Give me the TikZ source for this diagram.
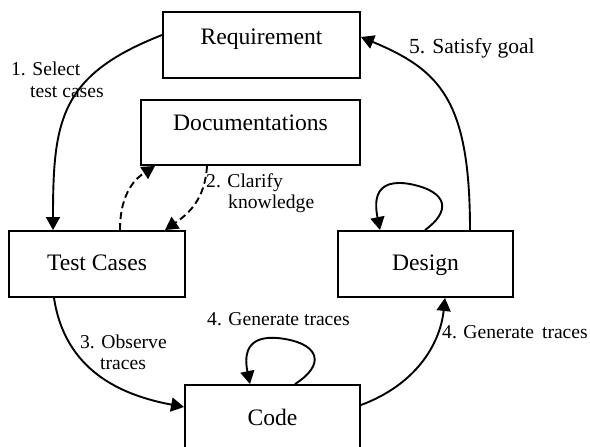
\documentclass[tikz,border=0pt]{standalone}
\usepackage{fontspec}
\setmainfont{Liberation Serif}
\usetikzlibrary{arrows.meta}
\begin{document}
\begin{tikzpicture}[x=1pt,y=-1pt,
  box/.style={draw,line width=1.9pt,inner sep=0pt,font=\fontsize{23.6}{26}\selectfont,text height=16pt},
  conn/.style={line width=1.9pt,-{Triangle[length=13pt,width=14pt]}},
  dconn/.style={conn,dash pattern=on 7pt off 4pt},
  lbl/.style={inner sep=0pt,anchor=base west,align=left,font=\fontsize{19.6}{20.5}\selectfont}]
\useasboundingbox (0,0) rectangle (590,447);
\node[box,minimum width=197pt,minimum height=66pt,text depth=16pt] (req) at (261.5,45) {Requirement};
\node[box,minimum width=219pt,minimum height=65pt,text depth=21pt] (doc) at (250.5,132.5) {Documentations};
\node[box,minimum width=176pt,minimum height=66pt,text depth=4pt] (tc) at (97,264) {Test Cases};
\node[box,minimum width=175pt,minimum height=66pt,text depth=4pt] (des) at (425.5,264) {Design};
\node[box,minimum width=175pt,minimum height=66pt,text depth=2pt] (code) at (272.5,418) {Code};
% 1
\draw[conn] ([yshift=10pt]req.west) .. controls (60,75) and (53,120) .. ([xshift=-44pt]tc.north);
% 2
\draw[dconn] ([xshift=23pt]tc.north) .. controls (120,190) and (138,177) .. ([xshift=-95.5pt]doc.south);
\draw[dconn] ([xshift=-43.5pt]doc.south) .. controls (205,200) and (188,214) .. ([xshift=68pt]tc.north);
% 3
\draw[conn] ([xshift=-43pt]tc.south) .. controls (65,370) and (120,395) .. ([yshift=11pt]code.west);
% 4 loops
\draw[conn] ([xshift=22.5pt]code.north) .. controls (325,365) and (320,345) .. (285,339) .. controls (250,333) and (243,350) .. ([xshift=-22.5pt]code.north);
\draw[conn] ([xshift=-0.5pt]des.north) .. controls (450,212) and (450,192) .. (410,184) .. controls (375,178) and (374,200) .. ([xshift=-45.5pt]des.north);
% 4b
\draw[conn] ([yshift=13pt]code.east) .. controls (415,385) and (440,345) .. ([xshift=19.5pt]des.south);
% 5
\draw[conn] ([xshift=44.5pt]des.north) .. controls (470,100) and (440,70) .. ([yshift=8pt]req.east);
% labels
\node[lbl,font=\fontsize{19.6}{22}\selectfont] (l1) at (11,97) {1. Select\\\hspace*{19pt}test cases};
\node[lbl] (l2) at (206,208) {2. Clarify\\\hspace*{22pt}knowledge};
\node[lbl] (l3) at (80,369) {3. Observe\\\hspace*{20pt}traces};
\node[lbl] (l4a) at (207,325) {4. Generate traces};
\node[lbl] (l4b) at (442,338) {4. Generate\hspace{3pt} traces};
\node[lbl,font=\fontsize{21.5}{23}\selectfont] (l5) at (409,53) {5. Satisfy goal};
\end{tikzpicture}
\end{document}
